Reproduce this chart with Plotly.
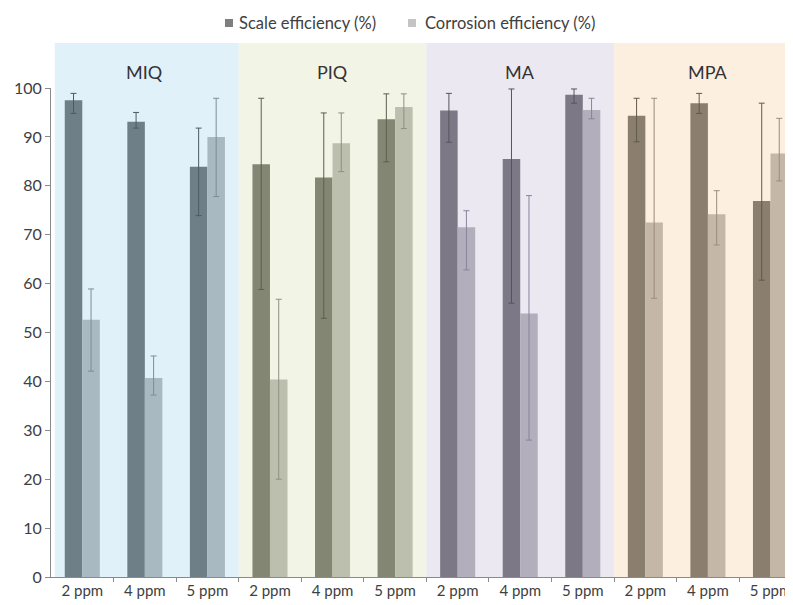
import plotly.graph_objects as go

groups = ["MIQ", "PIQ", "MA", "MPA"]
concs = ["2 ppm", "4 ppm", "5 ppm"]
series_names = ["Scale efficiency (%)", "Corrosion efficiency (%)"]

scale = [97.5, 93.1, 83.9, 84.4, 81.7, 93.6, 95.4, 85.5, 98.6, 94.3, 96.9, 76.9]
scale_hi = [98.9, 95.0, 91.8, 97.9, 94.9, 98.8, 98.9, 99.8, 99.8, 97.9, 98.9, 96.9]
scale_lo = [94.8, 91.8, 73.9, 58.8, 52.9, 84.9, 88.9, 56.0, 96.9, 89.0, 94.8, 60.7]

corr = [52.6, 40.7, 90.0, 40.4, 88.7, 96.1, 71.5, 53.9, 95.5, 72.5, 74.2, 86.6]
corr_hi = [58.9, 45.2, 97.9, 56.8, 94.9, 98.8, 74.9, 78.0, 97.9, 97.9, 79.0, 93.8]
corr_lo = [42.1, 37.2, 77.8, 20.0, 82.9, 91.7, 62.8, 28.0, 93.7, 57.0, 67.9, 81.0]

band_colors = ["#e1f1fa", "#f2f4e6", "#ebe8f2", "#fcefe0"]
dark_colors = ["#6f7f88", "#838673", "#7d7885", "#8a7e6f"]
light_colors = ["#a9b9c1", "#bcbfad", "#b2aebb", "#c5b7a7"]
dark_err = ["#4c5a62", "#5c5f4e", "#57525f", "#62584b"]
light_err = ["#7e8d95", "#8e9180", "#88849a", "#9a8c7c"]
legend_colors = ["#7f7f7f", "#c4c4c4"]

fig = go.Figure()

for gi, g in enumerate(groups):
    xs = [gi * 3 + k for k in range(3)]
    sl = slice(gi * 3, gi * 3 + 3)
    s = scale[sl]
    c = corr[sl]
    fig.add_trace(go.Bar(
        x=xs, y=s, offsetgroup="s", name=series_names[0], showlegend=False,
        marker=dict(color=dark_colors[gi], line=dict(width=0)),
        error_y=dict(type="data", symmetric=False,
                     array=[h - v for h, v in zip(scale_hi[sl], s)],
                     arrayminus=[v - l for l, v in zip(scale_lo[sl], s)],
                     color=dark_err[gi], thickness=1, width=3),
    ))
    fig.add_trace(go.Bar(
        x=xs, y=c, offsetgroup="c", name=series_names[1], showlegend=False,
        marker=dict(color=light_colors[gi], line=dict(width=0)),
        error_y=dict(type="data", symmetric=False,
                     array=[h - v for h, v in zip(corr_hi[sl], c)],
                     arrayminus=[v - l for l, v in zip(corr_lo[sl], c)],
                     color=light_err[gi], thickness=1, width=3),
    ))

band_edges = [-0.44, 2.5, 5.5, 8.5, 11.5]
for gi, g in enumerate(groups):
    fig.add_shape(type="rect", xref="x", yref="paper",
                  x0=band_edges[gi], x1=band_edges[gi + 1], y0=0, y1=1.092,
                  fillcolor=band_colors[gi], line=dict(width=0), layer="below")
    fig.add_annotation(x=gi * 3 + 1, y=1.033, xref="x", yref="paper",
                       xanchor="center", yanchor="middle",
                       text=g, showarrow=False,
                       font=dict(size=18, color="#333333", family="Lato"))

# manual legend
leg_sq = [(0.2345, 0.2453), (0.4811, 0.4919)]
leg_tx = [0.2507, 0.5013]
for i in range(2):
    fig.add_shape(type="rect", xref="paper", yref="paper",
                  x0=leg_sq[i][0], x1=leg_sq[i][1], y0=1.1247, y1=1.1411,
                  fillcolor=legend_colors[i], line=dict(width=0))
    fig.add_annotation(x=leg_tx[i], y=1.1329, xref="paper", yref="paper",
                       xanchor="left", yanchor="middle", text=series_names[i],
                       showarrow=False,
                       font=dict(size=16.5, color="#404040", family="Lato"))

fig.update_layout(
    width=785, height=597,
    margin=dict(l=43, r=0, t=80, b=28, autoexpand=False),
    paper_bgcolor="white", plot_bgcolor="rgba(0,0,0,0)",
    barmode="group", bargap=0.44, bargroupgap=0,
    showlegend=False,
    font=dict(family="Lato", color="#404040"),
    xaxis=dict(
        range=[-0.5, 11.36], tickmode="array", automargin=False,
        tickvals=list(range(12)), ticktext=concs * 4,
        ticks="", showgrid=False, zeroline=False,
        showline=True, linecolor="#8a8a8a", linewidth=1,
        tickfont=dict(size=15, color="#404040"),
        minor=dict(tickvals=[i + 0.5 for i in range(12)], ticks="outside",
                   ticklen=4, tickcolor="#8a8a8a", showgrid=False),
    ),
    yaxis=dict(
        range=[0, 100], tickmode="array", tickvals=list(range(0, 101, 10)),
        ticks="outside", ticklen=5, tickcolor="#8a8a8a", automargin=False,
        showgrid=False, zeroline=False,
        showline=True, linecolor="#8a8a8a", linewidth=1,
        tickfont=dict(size=16, color="#404040"),
    ),
)

fig.write_html("out.html")
